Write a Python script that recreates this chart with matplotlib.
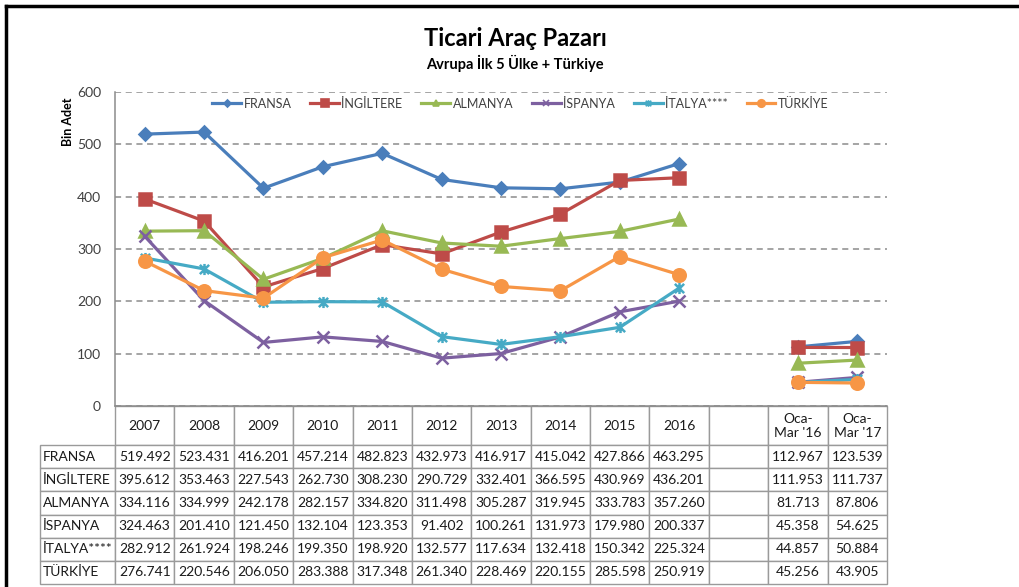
import matplotlib
matplotlib.use("Agg")
import matplotlib.pyplot as plt
import numpy as np
from matplotlib.path import Path
from matplotlib.lines import Line2D

plt.rcParams['font.family'] = ['Lato', 'DejaVu Sans']

# --- data ---
categories = ['2007', '2008', '2009', '2010', '2011', '2012', '2013', '2014',
              '2015', '2016', '', "Oca-\nMar '16", "Oca-\nMar '17"]
series_names = ['FRANSA', 'İNGİLTERE', 'ALMANYA', 'İSPANYA', 'İTALYA****', 'TÜRKİYE']
fransa = [519.492, 523.431, 416.201, 457.214, 482.823, 432.973, 416.917, 415.042,
          427.866, 463.295, None, 112.967, 123.539]
ingiltere = [395.612, 353.463, 227.543, 262.730, 308.230, 290.729, 332.401, 366.595,
             430.969, 436.201, None, 111.953, 111.737]
almanya = [334.116, 334.999, 242.178, 282.157, 334.820, 311.498, 305.287, 319.945,
           333.783, 357.260, None, 81.713, 87.806]
ispanya = [324.463, 201.410, 121.450, 132.104, 123.353, 91.402, 100.261, 131.973,
           179.980, 200.337, None, 45.358, 54.625]
italya = [282.912, 261.924, 198.246, 199.350, 198.920, 132.577, 117.634, 132.418,
          150.342, 225.324, None, 44.857, 50.884]
turkiye = [276.741, 220.546, 206.050, 283.388, 317.348, 261.340, 228.469, 220.155,
           285.598, 250.919, None, 45.256, 43.905]
all_series = [fransa, ingiltere, almanya, ispanya, italya, turkiye]

colors = ['#4A7EBB', '#BE4B48', '#98B954', '#7D60A0', '#46AAC5', '#F79646']

# excel style "star" marker: x with a vertical bar
star = Path([(-1, -1), (1, 1), (-1, 1), (1, -1), (0, -1.2), (0, 1.2)],
            [Path.MOVETO, Path.LINETO, Path.MOVETO, Path.LINETO, Path.MOVETO, Path.LINETO])
markers = ['D', 's', '^', 'x', star, 'o']
msizes = [6, 9, 8, 8, 8, 9]

fig = plt.figure(figsize=(10.2, 5.87), dpi=100)
ax = fig.add_axes([115/1020, 1-406/587, 772/1020, 314/587])

x = np.arange(len(categories))
for name, vals, c, m, ms in zip(series_names, all_series, colors, markers, msizes):
    y = np.array([np.nan if v is None else v for v in vals])
    ax.plot(x, y, color=c, lw=2.3, marker=m, markersize=ms, markerfacecolor=c,
            markeredgecolor=c, markeredgewidth=1.8, label=name, zorder=3)

ax.set_xlim(-0.5, len(categories)-0.5)
ax.set_ylim(0, 600)
ax.set_yticks(range(0, 601, 100))
ax.set_xticks([])
ax.yaxis.grid(True, color='#8C8C8C', linestyle=(0, (4, 3)), linewidth=1.1)
ax.set_axisbelow(True)
for s in ['top', 'right']:
    ax.spines[s].set_visible(False)
for s in ['left', 'bottom']:
    ax.spines[s].set_color('#8C8C8C')
    ax.spines[s].set_linewidth(1.1)
ax.tick_params(axis='y', length=0, pad=10, labelsize=10, labelcolor='#404040')

# legend
leg_handles = [Line2D([], [], color=c, lw=2.3, marker=m, markersize=ms*0.6,
                      markerfacecolor=c, markeredgecolor=c, markeredgewidth=1.2)
               for c, m, ms in zip(colors, markers, msizes)]
ax.legend(leg_handles, series_names, ncol=6, loc='center', bbox_to_anchor=(0.525, 0.963),
          frameon=False, fontsize=9, handlelength=2.3, handletextpad=0.2,
          columnspacing=1.5, labelcolor='#404040')

# data table under the axis (bbox covers the data grid, row labels sit to its left)
ncol = len(categories)
cell_text = [['' if v is None else f'{v:.3f}' for v in vals] for vals in all_series]
tbl = ax.table(cellText=cell_text, rowLabels=series_names, colLabels=categories,
               cellLoc='center', rowLoc='left', colLoc='center',
               bbox=[0, -178/314, 1, 178/314])
tbl.auto_set_font_size(False)
for (r, c), cell in tbl.get_celld().items():
    cell.set_edgecolor('#9A9A9A')
    cell.set_linewidth(1.0)
    cell.get_text().set_fontsize(10)
    cell.get_text().set_color('#1A1A1A')
    cell.set_width(80/772 if c == -1 else 1/ncol)
    cell.set_height((39 if r == 0 else 23) / 314)
    if c == -1:
        cell.PAD = 0.04

# titles
fig.text(0.505, 1-38/587, 'Ticari Araç Pazarı', ha='center', va='center',
         fontsize=17, fontweight='bold', color='black')
fig.text(0.505, 1-63/587, 'Avrupa İlk 5 Ülke + Türkiye', ha='center', va='center',
         fontsize=10.5, fontweight='bold', color='black')
fig.text(68/1020, 1-122/587, 'Bin Adet', rotation=90, ha='center', va='center',
         fontsize=9, fontweight='bold', color='black')

# outer frame
fig.add_artist(Line2D([6/1020, 6/1020], [0, 1-6/587], transform=fig.transFigure,
                      color='black', lw=2.5))
fig.add_artist(Line2D([6/1020, 1], [1-6/587, 1-6/587], transform=fig.transFigure,
                      color='black', lw=2.5))

fig.savefig('out.png', dpi=100)
